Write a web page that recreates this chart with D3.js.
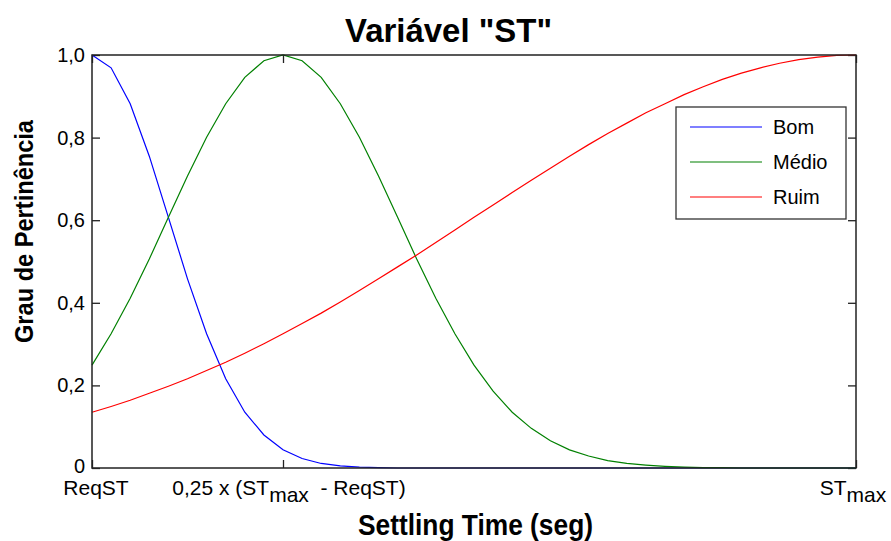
<!DOCTYPE html>
<html>
<head>
<meta charset="utf-8">
<script src="https://cdn.jsdelivr.net/npm/d3@7"></script>
<style>
  body { margin: 0; background: #fff; }
  svg { display: block; font-family: "Liberation Sans", Arial, sans-serif; }
</style>
</head>
<body>
<svg width="891" height="541"></svg>
<script>
// x: fraction of the way from ReqST (0) to STmax (1)
const xs = [0, 0.025, 0.05, 0.075, 0.1, 0.125, 0.15, 0.175, 0.2, 0.225,
  0.25, 0.275, 0.3, 0.325, 0.35, 0.375, 0.4, 0.425, 0.45, 0.475,
  0.5, 0.525, 0.55, 0.575, 0.6, 0.625, 0.65, 0.675, 0.7, 0.725,
  0.75, 0.775, 0.8, 0.825, 0.85, 0.875, 0.9, 0.925, 0.95, 0.975, 1];

const bom = [1.000, 0.969, 0.882, 0.755, 0.607, 0.458, 0.325, 0.216, 0.135, 0.080,
  0.044, 0.023, 0.011, 0.005, 0.002, 0.001, 0, 0, 0, 0,
  0, 0, 0, 0, 0, 0, 0, 0, 0, 0,
  0, 0, 0, 0, 0, 0, 0, 0, 0, 0, 0];

const medio = [0.249, 0.325, 0.411, 0.506, 0.607, 0.707, 0.801, 0.882, 0.946, 0.986,
  1.000, 0.986, 0.946, 0.882, 0.801, 0.707, 0.607, 0.506, 0.411, 0.325,
  0.249, 0.186, 0.135, 0.096, 0.066, 0.044, 0.029, 0.018, 0.011, 0.007,
  0.004, 0.002, 0.001, 0.001, 0, 0, 0, 0, 0, 0, 0];

const ruim = [0.135, 0.149, 0.164, 0.181, 0.198, 0.216, 0.236, 0.256, 0.278, 0.301,
  0.325, 0.350, 0.375, 0.402, 0.430, 0.458, 0.487, 0.516, 0.546, 0.576,
  0.607, 0.637, 0.667, 0.697, 0.726, 0.755, 0.783, 0.810, 0.835, 0.860,
  0.882, 0.904, 0.923, 0.941, 0.956, 0.969, 0.980, 0.989, 0.995, 0.999, 1.000];

const seriesNames = ['Bom', 'Médio', 'Ruim'];
const seriesColors = ['#0000ff', '#008000', '#ff0000'];
const yTicks = [0, 0.2, 0.4, 0.6, 0.8, 1];
const xTicks = [0, 0.25, 1];

const svg = d3.select('svg');
const margin = {top: 55, right: 35, bottom: 73, left: 92};
const width = +svg.attr('width') - margin.left - margin.right;
const height = +svg.attr('height') - margin.top - margin.bottom;
const g = svg.append('g')
  .attr('transform', `translate(${margin.left},${margin.top})`);

const x = d3.scaleLinear().domain([0, 1]).range([0, width]);
const y = d3.scaleLinear().domain([0, 1]).range([height, 0]);

const fmt = d => d === 0 ? '0' : d3.format('.1f')(d).replace('.', ',');

// left axis with labels
const yAxis = g.append('g')
  .call(d3.axisLeft(y).tickValues(yTicks).tickFormat(fmt).tickSize(-8).tickPadding(7));
yAxis.selectAll('text').attr('font-size', 20).attr('fill', '#000')
  .attr('font-family', '"Liberation Sans", Arial, sans-serif');
yAxis.selectAll('.tick').filter(d => d === 0).select('text').attr('dy', '0.2em');

// right and top ticks (box style)
g.append('g').attr('transform', `translate(${width},0)`)
  .call(d3.axisRight(y).tickValues(yTicks).tickFormat('').tickSize(-8));
g.append('g')
  .call(d3.axisTop(x).tickValues(xTicks).tickFormat('').tickSize(-8));

// bottom axis
g.append('g').attr('transform', `translate(0,${height})`)
  .call(d3.axisBottom(x).tickValues(xTicks).tickFormat('').tickSize(-8));

g.selectAll('.domain').remove();
g.selectAll('.tick line').attr('stroke', '#222').attr('stroke-width', 1.3);

// x tick labels with subscripts
const xLabels = [
  [{t: 'ReqST'}],
  [{t: '0,25 x (ST'}, {t: 'max', sub: true}, {t: '  - ReqST)'}],
  [{t: 'ST'}, {t: 'max', sub: true}]
];
const xOffsets = [4, 6, -3];
xTicks.forEach((v, i) => {
  const t = g.append('text')
    .attr('x', x(v) + xOffsets[i])
    .attr('y', height + 27)
    .attr('text-anchor', 'middle')
    .attr('font-size', 21)
    .attr('xml:space', 'preserve');
  let down = false;
  xLabels[i].forEach(p => {
    const s = t.append('tspan').text(p.t);
    if (p.sub && !down) { s.attr('dy', 7); down = true; }
    else if (!p.sub && down) { s.attr('dy', -7); down = false; }
  });
});

// curves
const line = d3.line()
  .x((d, i) => x(xs[i]))
  .y(d => y(d));

[bom, medio, ruim].forEach((s, k) => {
  g.append('path')
    .datum(s)
    .attr('fill', 'none')
    .attr('stroke', seriesColors[k])
    .attr('stroke-width', 1.2)
    .attr('d', line);
});

// frame
g.append('rect')
  .attr('width', width).attr('height', height)
  .attr('fill', 'none').attr('stroke', '#222').attr('stroke-width', 1.5);

// legend
const legend = svg.append('g').attr('transform', 'translate(676,107)');
legend.append('rect')
  .attr('width', 170).attr('height', 112)
  .attr('fill', '#fff').attr('stroke', '#333').attr('stroke-width', 1.3);
seriesNames.forEach((name, i) => {
  const yy = 20 + i * 35;
  legend.append('line')
    .attr('x1', 14).attr('x2', 86).attr('y1', yy).attr('y2', yy)
    .attr('stroke', seriesColors[i]).attr('stroke-width', 1.2);
  legend.append('text')
    .attr('x', 97).attr('y', yy + 7)
    .attr('font-size', 20)
    .text(name);
});

// titles
svg.append('text')
  .attr('x', 448.5).attr('y', 42)
  .attr('text-anchor', 'middle')
  .attr('font-size', 34).attr('font-weight', 'bold')
  .attr('textLength', 207).attr('lengthAdjust', 'spacingAndGlyphs')
  .text('Variável "ST"');

svg.append('text')
  .attr('x', 475.5).attr('y', 535)
  .attr('text-anchor', 'middle')
  .attr('font-size', 29).attr('font-weight', 'bold')
  .attr('textLength', 235).attr('lengthAdjust', 'spacingAndGlyphs')
  .text('Settling Time (seg)');

svg.append('text')
  .attr('transform', 'translate(33,231.5) rotate(-90)')
  .attr('text-anchor', 'middle')
  .attr('font-size', 25).attr('font-weight', 'bold')
  .attr('textLength', 223).attr('lengthAdjust', 'spacingAndGlyphs')
  .text('Grau de Pertinência');
</script>
</body>
</html>
